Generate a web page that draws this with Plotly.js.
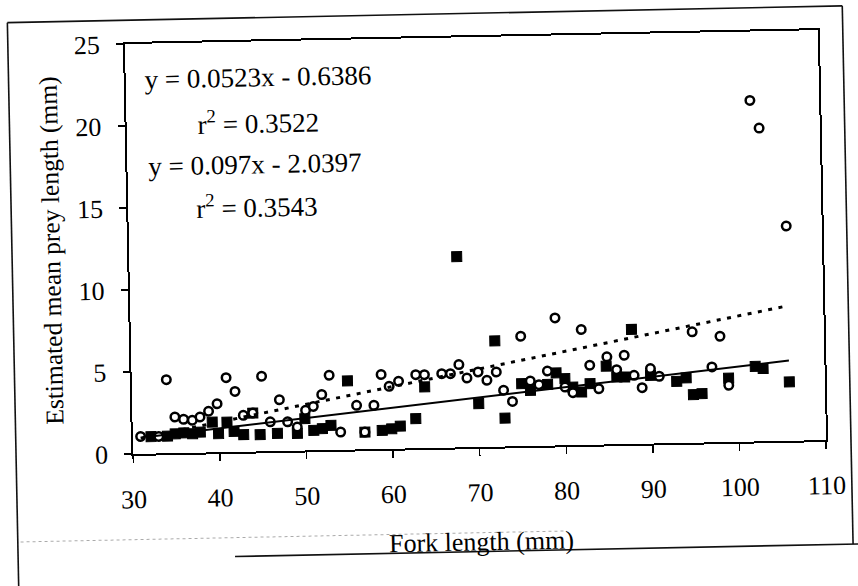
<!DOCTYPE html>
<html>
<head>
<meta charset="utf-8">
<script src="https://cdn.plot.ly/plotly-3.0.1.min.js"></script>
<style>
html,body{margin:0;padding:0;background:#fff;overflow:hidden;}
#chart{width:858px;height:586px;transform:rotate(-1.15deg);transform-origin:429px 293px;}
</style>
</head>
<body>
<div id="chart"></div>
<script>
// Open circles (fish group A) – fork length (mm) vs estimated mean prey length (mm)
const circleX = [30.9, 33.0, 34.0, 34.9, 35.9, 36.9, 37.8, 38.8, 39.8, 40.9, 41.9, 42.8, 43.9, 45.0, 45.9, 47.0, 47.9, 49.0, 50.0, 50.9, 51.9, 52.8, 54.0, 55.9, 56.8, 57.9, 58.8, 59.7, 60.8, 62.8, 63.8, 65.8, 66.8, 67.8, 68.7, 70.0, 71.0, 72.1, 72.9, 73.9, 75.0, 76.0, 77.0, 78.0, 79.0, 80.0, 80.9, 82.0, 82.9, 83.9, 84.9, 86.0, 86.9, 88.0, 88.9, 89.9, 90.9, 94.8, 97.0, 98.0, 98.9, 102.0, 103.0, 105.9];
const circleY = [1.06, 1.04, 4.49, 2.20, 2.05, 1.98, 2.17, 2.51, 2.96, 4.54, 3.69, 2.22, 2.35, 4.58, 1.79, 3.13, 1.77, 1.44, 2.45, 2.68, 3.39, 4.56, 1.08, 2.69, 1.05, 2.67, 4.54, 3.81, 4.11, 4.49, 4.48, 4.52, 4.51, 5.05, 4.22, 4.58, 4.06, 4.55, 3.43, 2.74, 6.70, 3.96, 3.73, 4.55, 7.78, 3.55, 3.20, 7.04, 4.85, 3.41, 5.34, 4.55, 5.42, 4.18, 3.42, 4.57, 4.09, 6.76, 4.60, 6.46, 3.46, 20.80, 19.10, 13.10];

// Filled squares (fish group B)
const squareX = [32.1, 34.0, 34.9, 35.9, 36.9, 37.8, 39.2, 39.9, 40.9, 41.7, 42.8, 43.9, 44.7, 46.7, 49.0, 49.9, 50.9, 51.9, 52.9, 54.9, 56.8, 58.8, 59.9, 60.9, 62.7, 63.8, 67.8, 70.0, 72.0, 73.0, 75.0, 76.0, 78.0, 79.0, 80.0, 80.9, 81.9, 82.9, 84.8, 86.0, 86.9, 87.8, 89.9, 92.9, 94.0, 94.8, 95.8, 98.9, 102.0, 102.9, 105.9];
const squareY = [1.03, 1.05, 1.18, 1.23, 1.16, 1.25, 1.85, 1.13, 1.83, 1.25, 1.05, 2.35, 1.02, 1.08, 1.05, 1.94, 1.22, 1.31, 1.50, 4.19, 1.05, 1.13, 1.22, 1.37, 1.81, 3.73, 11.63, 2.65, 6.45, 1.73, 3.81, 3.39, 3.74, 4.42, 4.07, 3.54, 3.23, 3.73, 4.77, 4.10, 4.09, 6.98, 4.16, 3.76, 3.96, 2.93, 2.98, 3.90, 4.58, 4.44, 3.59];

// Linear fits as printed on the chart: [squares (solid), circles (dotted)]
const fitSlopes = [0.0523, 0.097];
const fitIntercepts = [-0.6386, -2.0397];
const fitR2 = ["0.3522", "0.3543"];

const xTicks = [30, 40, 50, 60, 70, 80, 90, 100, 110];
const yTicks = [0, 5, 10, 15, 20, 25];

const serif = "Liberation Serif, Times New Roman, serif";

function fitLine(xs, i) {
  const lo = Math.min(...xs), hi = Math.max(...xs);
  return {x: [lo, hi], y: [fitSlopes[i] * lo + fitIntercepts[i], fitSlopes[i] * hi + fitIntercepts[i]]};
}
const solidFit = fitLine(squareX, 0);
const dotFit = fitLine(circleX, 1);

const traces = [
  {x: squareX, y: squareY, type: 'scatter', mode: 'markers',
   marker: {symbol: 'square', size: 10, color: '#000', line: {color: '#000', width: 1}}},
  {x: circleX, y: circleY, type: 'scatter', mode: 'markers',
   marker: {symbol: 'circle', size: 8.5, color: '#fff', line: {color: '#000', width: 2.5}}},
  {x: solidFit.x, y: solidFit.y, type: 'scatter', mode: 'lines',
   line: {color: '#000', width: 2}},
  {x: dotFit.x, y: dotFit.y, type: 'scatter', mode: 'lines',
   line: {color: '#000', width: 3, dash: '4px,6.5px'}}
];

function fmt(i) {
  const s = fitSlopes[i], b = fitIntercepts[i];
  return 'y = ' + s + 'x ' + (b < 0 ? '- ' : '+ ') + Math.abs(b).toFixed(4);
}

const annFont = {family: serif, size: 27, color: '#000'};
const annotations = [
  {x: 32.0, y: 22.8, text: fmt(0), xanchor: 'left', yanchor: 'middle'},
  {x: 38.0, y: 20.1, text: 'r<sup>2</sup> = ' + fitR2[0], xanchor: 'left', yanchor: 'middle'},
  {x: 32.2, y: 17.5, text: fmt(1), xanchor: 'left', yanchor: 'middle'},
  {x: 37.6, y: 15.0, text: 'r<sup>2</sup> = ' + fitR2[1], xanchor: 'left', yanchor: 'middle'}
].map(a => Object.assign(a, {xref: 'x', yref: 'y', showarrow: false, font: annFont}));

const frameLine = {color: '#111', width: 1.6};
const shapes = [
  {type: 'line', xref: 'paper', yref: 'paper', x0: -0.169, y0: 1.058, x1: -0.169, y1: -0.36, line: frameLine},
  {type: 'line', xref: 'paper', yref: 'paper', x0: -0.169, y0: 1.058, x1: 1.036, y1: 1.058, line: frameLine},
  {type: 'line', xref: 'paper', yref: 'paper', x0: 1.036, y0: 1.058, x1: 1.036, y1: -0.255, line: frameLine},
  {type: 'line', xref: 'paper', yref: 'paper', x0: 0.144, y0: -0.255, x1: 1.07, y1: -0.255, line: frameLine},
  {type: 'line', xref: 'paper', yref: 'paper', x0: -0.165, y0: -0.209, x1: 0.62, y1: -0.209,
   line: {color: '#aaa', width: 1, dash: 'dot'}}
];

const axisCommon = {
  showline: true, linecolor: '#000', linewidth: 2, mirror: true,
  ticks: 'outside', ticklen: 7, tickwidth: 1.5, tickcolor: '#000',
  showgrid: false, zeroline: false, fixedrange: true,
  tickfont: {family: serif, size: 26, color: '#000'}
};

const layout = {
  width: 858, height: 586,
  margin: {l: 130, r: 35, t: 38, b: 138},
  paper_bgcolor: '#fff', plot_bgcolor: '#fff',
  showlegend: false,
  xaxis: Object.assign({}, axisCommon, {
    range: [30, 110], tickmode: 'array', tickvals: xTicks, ticktext: xTicks.map(String),
    ticklabelstandoff: 14,
    title: {text: 'Fork length (mm)', font: {family: serif, size: 26, color: '#000'}, standoff: 26}
  }),
  yaxis: Object.assign({}, axisCommon, {
    range: [0, 25], tickmode: 'array', tickvals: yTicks, ticktext: yTicks.map(String),
    ticklabelstandoff: 11,
    title: {text: 'Estimated mean prey length (mm)', font: {family: serif, size: 25.5, color: '#000'}, standoff: 10}
  }),
  annotations: annotations,
  shapes: shapes
};

Plotly.newPlot('chart', traces, layout, {displayModeBar: false, staticPlot: true});
</script>
</body>
</html>
